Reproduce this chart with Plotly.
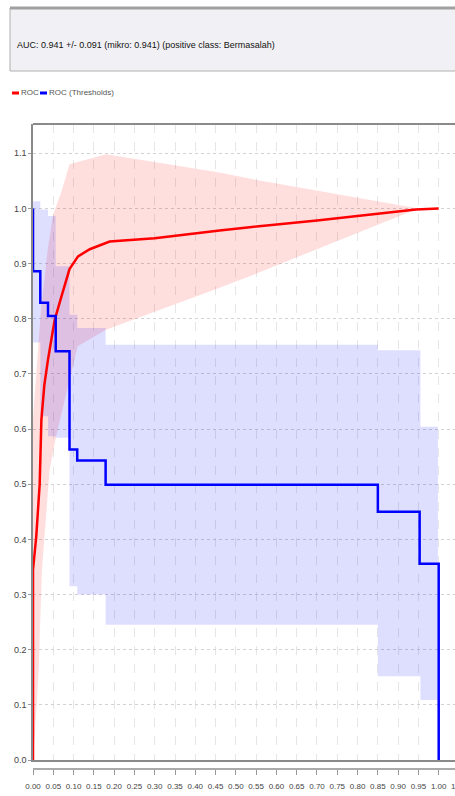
import plotly.graph_objects as go

# ---------------- data ----------------
roc_fpr = [0, 0, 0.008, 0.0165, 0.0207, 0.028, 0.037, 0.0535, 0.07, 0.09, 0.111, 0.14,
           0.189, 0.30, 0.46, 0.534, 0.70, 0.85, 0.944, 1.0]
roc_tpr = [0, 0.345, 0.405, 0.50, 0.617, 0.68, 0.726, 0.798, 0.84, 0.89, 0.913, 0.926,
           0.94, 0.946, 0.96, 0.966, 0.978, 0.99, 0.998, 1.0]

roc_upper_x = [0, 0, 0.01, 0.02, 0.037, 0.05, 0.07, 0.09, 0.18, 0.46, 0.534, 0.95, 1.0]
roc_upper_y = [0, 0.62, 0.72, 0.82, 0.93, 0.99, 1.03, 1.08, 1.098, 1.065, 1.054, 1.0, 1.0]
roc_lower_x = [1.0, 0.95, 0.534, 0.46, 0.18, 0.11, 0.057, 0.041, 0.022, 0.014, 0.005, 0]
roc_lower_y = [1.0, 1.0, 0.877, 0.856, 0.78, 0.75, 0.587, 0.526, 0.345, 0.163, 0.05, 0]

thr_x = [0, 0, 0.018, 0.037, 0.056, 0.09, 0.109, 0.179, 0.85, 0.953, 1.0]
thr_y = [1.0, 0.886, 0.829, 0.805, 0.741, 0.563, 0.543, 0.499, 0.45, 0.356, 0.0]

thr_band_breaks = [0, 0.018, 0.037, 0.056, 0.09, 0.109, 0.179, 0.85, 0.955, 0.998]
thr_band_upper = [1.013, 0.998, 0.986, 0.895, 0.807, 0.783, 0.753, 0.743, 0.604]
thr_band_lower = [0.757, 0.623, 0.587, 0.584, 0.315, 0.300, 0.245, 0.152, 0.109]

x_ticks = [round(i * 0.05, 2) for i in range(21)]
x_tick_labels = [f"{v:.2f}" for v in x_ticks]
y_ticks = [round(i * 0.1, 1) for i in range(12)]
y_tick_labels = [f"{v:.1f}" for v in y_ticks]

title_text = "AUC: 0.941 +/- 0.091 (mikro: 0.941) (positive class: Bermasalah)"
legend_names = ["ROC", "ROC (Thresholds)"]

RED = "#ff0000"
BLUE = "#0000ff"
FONT = "Liberation Sans Narrow, Arial Narrow, Liberation Sans, sans-serif"

# ---------------- figure ----------------
W, H = 455, 796
L, R, T, B = 33, 0, 124, 27
PW, PH = W - L - R, H - T - B


def px(xp):
    return (xp - L) / PW


def py(yp):
    return (H - B - yp) / PH


fig = go.Figure()

# red std band
fig.add_trace(go.Scatter(
    x=roc_upper_x + roc_lower_x, y=roc_upper_y + roc_lower_y,
    fill="toself", fillcolor="rgba(255,0,0,0.13)", line=dict(width=0),
    mode="lines", hoverinfo="skip", showlegend=False))

# blue std band (step polygon)
bx, by = [], []
for i in range(len(thr_band_upper)):
    bx += [thr_band_breaks[i], thr_band_breaks[i + 1]]
    by += [thr_band_upper[i], thr_band_upper[i]]
for i in reversed(range(len(thr_band_lower))):
    bx += [thr_band_breaks[i + 1], thr_band_breaks[i]]
    by += [thr_band_lower[i], thr_band_lower[i]]
fig.add_trace(go.Scatter(
    x=bx, y=by, fill="toself", fillcolor="rgba(0,0,255,0.13)", line=dict(width=0),
    mode="lines", hoverinfo="skip", showlegend=False))

# lines
fig.add_trace(go.Scatter(x=roc_fpr, y=roc_tpr, mode="lines", name=legend_names[0],
                         line=dict(color=RED, width=2.5), showlegend=False))
fig.add_trace(go.Scatter(x=thr_x, y=thr_y, mode="lines", name=legend_names[1],
                         line=dict(color=BLUE, width=2.5, shape="hv"), showlegend=False))

x_max = (W - L) / 405.7
y_max = 1.153
dom_bottom = 9 / PH

fig.update_layout(
    width=W, height=H,
    margin=dict(l=L, r=R, t=T, b=B, pad=0, autoexpand=False),
    paper_bgcolor="white", plot_bgcolor="white",
    font=dict(family=FONT, size=8, color="#444"),
    xaxis=dict(range=[0, x_max], tickvals=x_ticks, showticklabels=False, ticks="",
               showgrid=True, gridcolor="#e6e6e6", griddash="dash", gridwidth=1,
               showline=True, linecolor="#8a8a8a", linewidth=1.5, zeroline=False,
               anchor="y", automargin=False),
    xaxis2=dict(range=[0, x_max], matches="x", overlaying="x", anchor="free", position=0,
                tickvals=x_ticks, ticktext=x_tick_labels, ticks="outside", ticklen=5,
                tickcolor="#999", showgrid=False, showline=True, linecolor="#aaaaaa",
                linewidth=1.5, zeroline=False, side="bottom", automargin=False,
                ticklabelstandoff=5,
                tickfont=dict(family=FONT, size=8, color="#444")),
    yaxis=dict(range=[0, y_max], domain=[dom_bottom, 1], tickvals=y_ticks,
               ticktext=y_tick_labels, ticks="outside", ticklen=3, tickcolor="#999",
               showgrid=True, gridcolor="#d2d2d2", griddash="dot", gridwidth=1,
               showline=True, linecolor="#8a8a8a", linewidth=1.5, zeroline=False,
               automargin=False,
               tickfont=dict(family=FONT, size=9, color="#444")),
    showlegend=False,
)

# dummy trace to attach xaxis2
fig.add_trace(go.Scatter(x=[0], y=[0], xaxis="x2", mode="markers",
                         marker=dict(opacity=0), hoverinfo="skip", showlegend=False))

shapes = []
# top frame line
shapes.append(dict(type="line", xref="paper", yref="paper", x0=0, x1=1.05, y0=1, y1=1,
                   line=dict(color="#8a8a8a", width=2)))
# title box
shapes.append(dict(type="rect", xref="paper", yref="paper",
                   x0=px(10), x1=px(470), y0=py(71), y1=py(8),
                   fillcolor="#f1f1f5", line=dict(color="#b0b0b0", width=1)))
shapes.append(dict(type="line", xref="paper", yref="paper",
                   x0=px(10), x1=px(470), y0=py(8), y1=py(8),
                   line=dict(color="#a0a0a0", width=3)))
# legend swatches
shapes.append(dict(type="line", xref="paper", yref="paper", x0=px(12), x1=px(19),
                   y0=py(93), y1=py(93), line=dict(color=RED, width=3)))
shapes.append(dict(type="line", xref="paper", yref="paper", x0=px(40), x1=px(47),
                   y0=py(93), y1=py(93), line=dict(color=BLUE, width=3)))
fig.update_layout(shapes=shapes)

annotations = [
    dict(text=title_text, xref="paper", yref="paper", x=px(15), y=py(45),
         xanchor="left", yanchor="middle", showarrow=False,
         font=dict(family=FONT, size=9, color="#111")),
    dict(text=legend_names[0], xref="paper", yref="paper", x=px(19), y=py(93),
         xanchor="left", yanchor="middle", showarrow=False,
         font=dict(family=FONT, size=8, color="#555")),
    dict(text=legend_names[1], xref="paper", yref="paper", x=px(47), y=py(93),
         xanchor="left", yanchor="middle", showarrow=False,
         font=dict(family=FONT, size=8, color="#555")),
    dict(text="1.05", xref="paper", yref="paper", x=px(459.3), y=py(780),
         xanchor="center", yanchor="top", showarrow=False,
         font=dict(family=FONT, size=8, color="#444")),
]
fig.update_layout(annotations=annotations)

fig.write_html("out.html", config={"displayModeBar": False},
               post_script="document.body.style.margin='0';document.body.style.overflow='hidden';")
